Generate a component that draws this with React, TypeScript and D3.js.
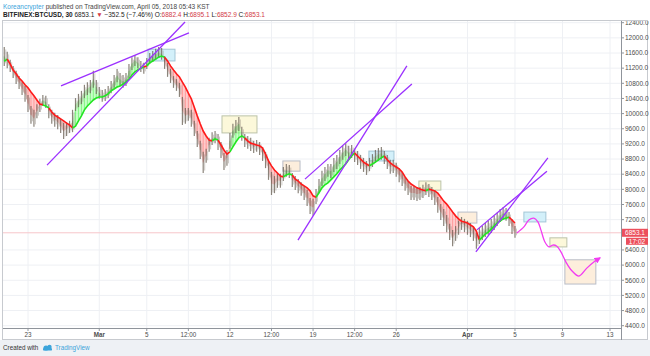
import React from "react";
import * as d3 from "d3";

// ---- 6-hour samples of BITFINEX:BTCUSD, starting 2018-02-21 00:00 ----
const high = [
  11760, 11630, 11420, 11260, 11130, 10990, 10830, 10730, 10490, 10200,
  10100, 10250, 10390, 10490, 10470, 10250, 10100, 10020, 9960, 9860,
  9750, 9780, 9810, 10100, 10410, 10520, 10600, 10760, 10830, 10890,
  11130, 10890, 10700, 10620, 10650, 10730, 10860, 11020, 11180, 11070,
  11020, 11070, 11310, 11490, 11550, 11490, 11390, 11340, 11470, 11600,
  11650, 11710, 11760, 11730, 11520, 11340, 11180, 10990, 10910, 10810,
  10440, 10150, 10150, 10100, 9810, 9540, 9280, 8990, 9070, 9360,
  9510, 9540, 9460, 9250, 8960, 9040, 9490, 9730, 9830, 9910,
  9650, 9460, 9410, 9360, 9280, 9300, 9250, 9120, 8990, 8780,
  8460, 8350, 8430, 8410, 8590, 8670, 8640, 8430, 8350, 8270,
  8190, 8090, 7980, 7770, 7750, 8010, 8270, 8490, 8590, 8670,
  8670, 8830, 8910, 9040, 9150, 9220, 9150, 9170, 9070, 9010,
  8910, 8830, 8750, 8830, 8930, 9040, 9090, 9120, 9010, 8910,
  8780, 8780, 8700, 8560, 8460, 8330, 8220, 8090, 8090, 8060,
  8060, 8120, 8190, 8140, 8060, 7980, 7800, 7610, 7480, 7320,
  7090, 6930, 7030, 7170, 7270, 7220, 7170, 7110, 7010, 6850,
  6980, 7030, 7110, 7170, 7220, 7300, 7380, 7480, 7530, 7510,
  7400, 7220, 7030,
];
const low = [
  11260, 11200, 11100, 10940, 10780, 10650, 10490, 10310, 10040, 9730,
  9650, 9880, 10040, 10200, 10150, 9880, 9730, 9650, 9590, 9490,
  9330, 9410, 9490, 9510, 10070, 10170, 10250, 10410, 10490, 10540,
  10680, 10520, 10390, 10310, 10330, 10410, 10540, 10680, 10830, 10730,
  10680, 10730, 10940, 11150, 11260, 11200, 11100, 11050, 11180, 11310,
  11360, 11420, 11470, 11420, 11180, 10970, 10810, 10680, 10600, 10440,
  9700, 9730, 9810, 9650, 9410, 9120, 8800, 8430, 8700, 8990,
  9170, 9220, 9040, 8830, 8510, 8620, 9070, 9360, 9490, 9540,
  9280, 9120, 9070, 9010, 8960, 8990, 8910, 8750, 8560, 8250,
  7850, 7900, 8040, 8040, 8220, 8330, 8300, 8060, 7980, 7900,
  7830, 7720, 7560, 7350, 7300, 7610, 7900, 8090, 8220, 8330,
  8300, 8460, 8540, 8670, 8780, 8880, 8780, 8830, 8720, 8640,
  8540, 8460, 8380, 8480, 8590, 8700, 8750, 8780, 8670, 8540,
  8410, 8430, 8330, 8190, 8090, 7960, 7850, 7720, 7720, 7690,
  7720, 7770, 7850, 7800, 7720, 7590, 7380, 7190, 7030, 6870,
  6660, 6500, 6640, 6800, 6930, 6870, 6800, 6740, 6640, 6430,
  6560, 6660, 6740, 6800, 6850, 6930, 7030, 7140, 7190, 7170,
  7030, 6820, 6720,
];
const ema = [
  11380, 11440, 11310, 11150, 11050, 10940, 10860, 10760, 10680, 10570,
  10470, 10360, 10250, 10230, 10200, 10150, 10040, 9960, 9910, 9860,
  9810, 9750, 9700, 9620, 9670, 9810, 9940, 10100, 10200, 10280,
  10360, 10410, 10440, 10440, 10470, 10520, 10600, 10650, 10700, 10730,
  10780, 10830, 10910, 11020, 11100, 11150, 11200, 11230, 11260, 11340,
  11390, 11440, 11490, 11520, 11490, 11390, 11260, 11150, 11050, 10970,
  10830, 10700, 10540, 10390, 10170, 9940, 9730, 9540, 9410, 9300,
  9280, 9330, 9300, 9170, 9040, 8930, 8990, 9120, 9250, 9360,
  9410, 9360, 9280, 9220, 9200, 9170, 9150, 9090, 8930, 8750,
  8620, 8510, 8430, 8350, 8330, 8380, 8410, 8380, 8270, 8220,
  8140, 8090, 8040, 7960, 7830, 7790, 7910, 8040, 8120, 8170,
  8250, 8330, 8410, 8510, 8590, 8670, 8780, 8880, 8960, 8880,
  8800, 8720, 8670, 8620, 8670, 8720, 8780, 8830, 8880, 8780,
  8700, 8640, 8590, 8540, 8460, 8330, 8220, 8140, 8090, 8040,
  8010, 7980, 7960, 8010, 7980, 7960, 7900, 7800, 7690, 7610,
  7510, 7400, 7300, 7220, 7160, 7140, 7110, 7060, 7010, 6900,
  6660, 6740, 6820, 6870, 6950, 7030, 7110, 7160, 7220, 7240,
  7270, 7190, 7110,
];

const priceTicks = [4400, 4800, 5200, 5600, 6000, 6400, 7200, 7600, 8000, 8400, 8800, 9200, 9600, 10000, 10400, 10800, 11200, 11600, 12000, 12400];
const timeTickDates = ["2018-02-23T00:00", "2018-03-01T00:00", "2018-03-05T00:00", "2018-03-08T12:00", "2018-03-12T00:00", "2018-03-15T12:00", "2018-03-19T00:00", "2018-03-22T12:00", "2018-03-26T00:00", "2018-04-01T00:00", "2018-04-05T00:00", "2018-04-09T00:00", "2018-04-13T00:00"];
const timeTickLabels = ["23", "Mar", "5", "12:00", "12", "12:00", "19", "12:00", "26", "Apr", "5", "9", "13"];

const boxStart = ["2018-03-05T02:30", "2018-03-11T08:00", "2018-03-16T11:00", "2018-03-23T16:50", "2018-03-27T21:50", "2018-03-31T04:50", "2018-04-05T18:00", "2018-04-07T22:35", "2018-04-09T04:50"];
const boxEnd = ["2018-03-07T09:00", "2018-03-14T06:40", "2018-03-17T21:40", "2018-03-25T19:30", "2018-03-29T18:15", "2018-04-01T19:00", "2018-04-07T14:25", "2018-04-09T08:50", "2018-04-11T19:25"];
const boxTop = [11700, 9940, 8750, 9010, 8220, 7400, 7400, 6720, 6140];
const boxBottom = [11390, 9490, 8480, 8750, 7980, 7110, 7140, 6480, 5500];
const boxKind = ["blue", "yellow", "peach", "blue", "yellow", "peach", "blue", "yellow", "peach"];

const trendStart = ["2018-02-24T14:25", "2018-02-25T18:40", "2018-03-17T17:30", "2018-03-18T07:40", "2018-04-01T17:00", "2018-04-01T19:00"];
const trendStartPrice = [8640, 10730, 6660, 8270, 6350, 6930];
const trendEnd = ["2018-03-08T05:15", "2018-03-08T13:10", "2018-03-26T21:35", "2018-03-27T07:40", "2018-04-07T18:30", "2018-04-07T16:35"];
const trendEndPrice = [12420, 12130, 11260, 10780, 8830, 8480];

const projTime = ["2018-04-05T03:50", "2018-04-05T18:00", "2018-04-06T04:00", "2018-04-06T14:10", "2018-04-06T22:20", "2018-04-07T04:20", "2018-04-07T12:30", "2018-04-07T20:40", "2018-04-08T04:30", "2018-04-08T12:40", "2018-04-08T20:50", "2018-04-09T07:00", "2018-04-09T19:00", "2018-04-10T09:10", "2018-04-11T01:10", "2018-04-11T15:20", "2018-04-12T03:40"];
const projPrice = [6850, 7010, 7190, 7240, 7140, 6930, 6610, 6480, 6530, 6500, 6350, 6080, 5850, 5710, 5920, 6080, 6190];

const lastPrice = 6853.1;
const countdown = "17:02";

const FONT = "'Liberation Sans', Arial, sans-serif";
const W = 650, H = 356;
const PL = 3, PR = 621, PT = 21, PB = 328;

const boxColors: Record<string, { fill: string; stroke: string }> = {
  blue: { fill: "#d3f0fa", stroke: "#a3c6d6" },
  yellow: { fill: "#fcf8da", stroke: "#bcc3a9" },
  peach: { fill: "#fdeedc", stroke: "#b9bdc7" },
};

export default function App() {
  const parse = d3.timeParse("%Y-%m-%dT%H:%M");
  const P = (s: string) => parse(s) as Date;
  const t0 = P("2018-02-21T00:00");
  const times = high.map((_, i) => d3.timeHour.offset(t0, i * 6));
  const x = d3.scaleTime().domain([P("2018-02-23T00:00"), P("2018-04-13T00:00")]).range([28, 610]);
  const y = d3.scaleLinear().domain([4400, 12400]).range([325.7, 22.7]);

  const n = high.length;
  const mid = high.map((h, i) => (h + low[i]) / 2);
  const up = ema.map((e, i) => mid[i] > e);

  const runs: { up: boolean; idx: number[] }[] = [];
  for (let i = 0; i < n; i++) {
    const last = runs[runs.length - 1];
    if (!last || last.up !== up[i]) {
      if (last) last.idx.push(i);
      runs.push({ up: up[i], idx: [i] });
    } else last.idx.push(i);
  }

  const area = d3.area<number>().x((i) => x(times[i])).y0((i) => y(ema[i])).y1((i) => y(mid[i]));
  const line = d3.line<number>().x((i) => x(times[i])).y((i) => y(ema[i]));
  const proj = d3.line<number>().x((i) => x(P(projTime[i]))).y((i) => y(projPrice[i])).curve(d3.curveCatmullRom.alpha(0.5));

  const yLast = y(lastPrice);

  return (
    <div style={{ position: "absolute", left: 0, top: 0 }}>
      <svg width={W} height={H} style={{ display: "block", fontFamily: FONT }}>
        <defs>
          <clipPath id="plot"><rect x={PL} y={PT} width={PR - PL} height={PB - PT} /></clipPath>
          <clipPath id="paxis"><rect x={PR} y={PT} width={W - PR} height={PB - PT} /></clipPath>
          <marker id="arrow" viewBox="0 0 10 10" refX="8" refY="5" markerWidth="5" markerHeight="5" orient="auto">
            <path d="M0,0 L10,5 L0,10 z" fill="#f23cf2" />
          </marker>
        </defs>
        <rect x={0} y={0} width={W} height={H} fill="#ffffff" />
        <rect x={0} y={340} width={W} height={16} fill="#eef1f5" />

        {/* header */}
        <text x={3} y={8.5} fontSize={6.5} style={{ whiteSpace: "pre" }}>
          <tspan fill="#3ba4db">Koreancrypter</tspan>
          <tspan fill="#444"> published on TradingView.com, April 05, 2018 05:43 KST</tspan>
        </text>
        <text x={3} y={17.3} fontSize={6.5} fill="#222" style={{ whiteSpace: "pre" }}>
          <tspan fontWeight="bold">BITFINEX:BTCUSD, 30</tspan>
          <tspan>{" 6853.1 "}</tspan>
          <tspan fill="#d23a46">▼</tspan>
          <tspan>{" −352.5 (−7.46%) O:"}</tspan>
          <tspan fill="#d23a46">6882.4</tspan>
          <tspan>{" H:"}</tspan>
          <tspan fill="#d23a46">6895.1</tspan>
          <tspan>{" L:"}</tspan>
          <tspan fill="#d23a46">6852.9</tspan>
          <tspan>{" C:"}</tspan>
          <tspan fill="#d23a46">6853.1</tspan>
        </text>

        {/* grid */}
        <g clipPath="url(#plot)">
          {priceTicks.map((p) => (
            <line key={"h" + p} x1={PL} x2={PR} y1={y(p)} y2={y(p)} stroke="#eef0f4" strokeWidth={1} />
          ))}
          {timeTickDates.map((d, i) => (
            <line key={"v" + i} x1={x(P(d))} x2={x(P(d))} y1={PT} y2={PB} stroke="#eef0f4" strokeWidth={1} />
          ))}
          <line x1={PL} x2={PR} y1={yLast} y2={yLast} stroke="#f7c6cb" strokeWidth={1} />

          {/* boxes */}
          {boxStart.map((s, i) => {
            const x1 = x(P(s)), x2 = x(P(boxEnd[i]));
            const y1 = y(boxTop[i]), y2 = y(boxBottom[i]);
            const c = boxColors[boxKind[i]];
            return <rect key={"b" + i} x={x1} y={y1} width={x2 - x1} height={y2 - y1} fill={c.fill} stroke={c.stroke} strokeWidth={1} />;
          })}

          {/* cloud fill between ema and price */}
          {runs.map((r, k) => (
            <path key={"f" + k} d={area(r.idx) || ""} fill={r.up ? "#8dff8d" : "#ff9a9a"} fillOpacity={0.5} />
          ))}
          {times.map((t, i) => (
            <line key={"s" + i} x1={x(t)} x2={x(t)} y1={y(ema[i])} y2={y(mid[i])} stroke={up[i] ? "#33e633" : "#ff5c5c"} strokeOpacity={0.55} strokeWidth={0.8} />
          ))}

          {/* candles */}
          {times.map((t, i) => (
            <line key={"c" + i} x1={x(t)} x2={x(t)} y1={y(high[i])} y2={y(low[i])} stroke="#6e655a" strokeOpacity={0.8} strokeWidth={1.2} />
          ))}
          {times.map((t, i) => (
            <line key={"c2" + i} x1={x(t) + 1.5} x2={x(t) + 1.5} y1={y(high[i]) + 2.5} y2={y(low[i]) - 2.5} stroke="#8a8176" strokeOpacity={0.55} strokeWidth={0.8} />
          ))}

          {/* ema line */}
          {runs.map((r, k) => (
            <path key={"l" + k} d={line(r.idx) || ""} fill="none" stroke={r.up ? "#22e622" : "#ff1a1a"} strokeWidth={1.6} />
          ))}

          {/* trend lines */}
          {trendStart.map((s, i) => (
            <line key={"t" + i} x1={x(P(s))} y1={y(trendStartPrice[i])} x2={x(P(trendEnd[i]))} y2={y(trendEndPrice[i])} stroke="#9b30ff" strokeWidth={1.3} />
          ))}

          {/* projection */}
          <path d={proj(projTime.map((_, i) => i)) || ""} fill="none" stroke="#f23cf2" strokeWidth={1.3} markerEnd="url(#arrow)" />
        </g>

        {/* frame */}
        <rect x={2.5} y={20.5} width={645} height={319} fill="none" stroke="#c7cacf" strokeWidth={1} />
        <line x1={PR + 0.5} x2={PR + 0.5} y1={PT} y2={340} stroke="#8f949b" strokeWidth={1} />
        <line x1={PL} x2={PR} y1={PB + 0.5} y2={PB + 0.5} stroke="#8f949b" strokeWidth={1} />

        {/* price axis */}
        <g clipPath="url(#paxis)">
          {priceTicks.map((p) => (
            <g key={"pt" + p}>
              <line x1={PR} x2={PR + 3} y1={y(p)} y2={y(p)} stroke="#8f949b" />
              <text x={PR + 4} y={y(p)} dy="0.35em" fontSize={6.5} fill="#4d4d4d">{p.toFixed(1)}</text>
            </g>
          ))}
        </g>
        <rect x={PR + 1} y={yLast - 4} width={26} height={8} fill="#ec4f5c" />
        <text x={PR + 14} y={yLast} dy="0.35em" fontSize={6.5} fill="#fff" textAnchor="middle">{lastPrice.toFixed(1)}</text>
        <rect x={PR + 5} y={yLast + 5} width={22} height={7} fill="#ec4f5c" />
        <text x={PR + 16} y={yLast + 8.5} dy="0.35em" fontSize={6.5} fill="#fff" textAnchor="middle">{countdown}</text>

        {/* time axis */}
        {timeTickDates.map((d, i) => (
          <g key={"tt" + i}>
            <line x1={x(P(d))} x2={x(P(d))} y1={PB} y2={PB + 3} stroke="#8f949b" />
            <text x={x(P(d))} y={334.5} dy="0.35em" fontSize={6.3} fill="#4d4d4d" textAnchor="middle" fontWeight={timeTickLabels[i] === "Mar" || timeTickLabels[i] === "Apr" ? "bold" : "normal"}>{timeTickLabels[i]}</text>
          </g>
        ))}

        {/* footer */}
        <text x={3} y={350} fontSize={6.3} fill="#333">Created with</text>
        <g fill="#3ba4db">
          <circle cx={46} cy={348} r={2.6} />
          <circle cx={49.5} cy={347} r={2.2} />
          <rect x={43} y={348} width={9} height={2.6} rx={1.2} />
        </g>
        <text x={55} y={350} fontSize={6.3} fill="#3ba4db">TradingView</text>
      </svg>
    </div>
  );
}
